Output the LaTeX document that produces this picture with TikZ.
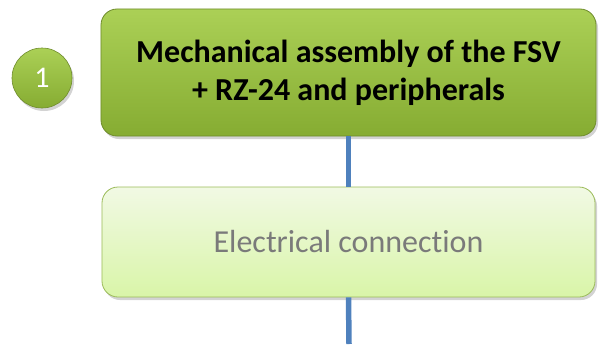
\documentclass[tikz,border=0pt]{standalone}
\usepackage{fontspec}
\setmainfont{Carlito}[Ligatures=NoCommon]
\usetikzlibrary{shadows}
\definecolor{leaftop}{HTML}{ABD056}
\definecolor{leafbot}{HTML}{86AC32}
\definecolor{leafdark}{HTML}{6F8C2C}
\definecolor{leafline}{HTML}{9BBB59}
\definecolor{paletop}{HTML}{F1F9E4}
\definecolor{palebot}{HTML}{D9F5A8}
\definecolor{linkblue}{HTML}{4F81BD}

\begin{document}
\begin{tikzpicture}[x=1bp,y=1bp,
  stepbox/.style={rounded corners=16bp,draw=leafdark,line width=0.8bp,
    drop shadow={shadow xshift=2bp,shadow yshift=-3bp,opacity=0.35},
    align=center,inner sep=0pt},
  numdot/.style={circle,draw=leafdark,line width=0.6bp,minimum size=60bp,
    top color=leaftop,bottom color=leafbot,text=white,
    drop shadow={shadow xshift=2bp,shadow yshift=-3bp,opacity=0.35},
    font=\fontsize{30bp}{34bp}\selectfont},
  link/.style={linkblue,line width=5.5bp}]
\useasboundingbox (0,0) rectangle (601,344);
\coordinate (bottom) at (349,0);
% the two steps
\node[stepbox,minimum width=495bp,minimum height=127bp,
  top color=leaftop,bottom color=leafbot,
  font=\fontsize{32bp}{38bp}\selectfont\bfseries] (step1) at (348.5,271.5)
  {Mechanical assembly of the FSV\\+ RZ-24 and peripherals};
\node[stepbox,minimum width=493bp,minimum height=110bp,draw=leafline,
  top color=paletop,bottom color=palebot,text=black!52,
  font=\fontsize{32bp}{38bp}\selectfont] (step2) at (348.5,102)
  {Electrical connection};
\node[numdot] (num1) at (42,266) {1};
% blue spine
\draw[link] (step1.south) -- (step2.north);
\draw[link] (step2.south) -- (bottom);
\end{tikzpicture}
\end{document}
